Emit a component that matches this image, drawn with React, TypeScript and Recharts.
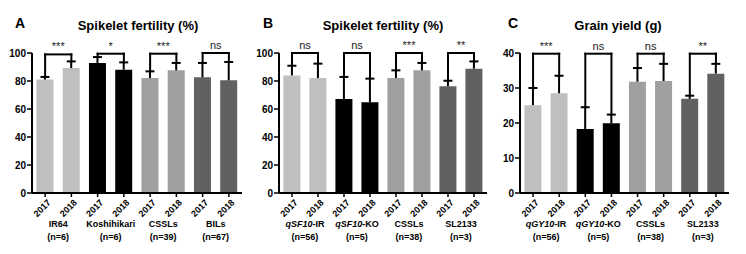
import React from "react";
import { BarChart, Bar, XAxis, YAxis, ReferenceLine, Cell } from "recharts";

const FONT = "'Liberation Sans', Arial, Helvetica, sans-serif";

const YEARS = ["2017", "2018"];
const GROUP_COLORS = ["#bfbfc1", "#000000", "#a0a0a2", "#616161"];

// A: spikelet fertility, parents and populations
const groupsA = ["IR64", "Koshihikari", "CSSLs", "BILs"];
const nA = [6, 6, 39, 67];
const meanA = [81.0, 89.3, 92.9, 88.1, 82.1, 87.6, 82.6, 80.5];
const sdA = [1.9, 4.7, 4.2, 5.2, 4.8, 5.3, 10.3, 13.1];
const sigA = ["***", "*", "***", "ns"];
const bracketA = [99, 99.5, 99.5, 100];

// B: spikelet fertility, qSF10 lines
const groupsB = ["qSF10-IR", "qSF10-KO", "CSSLs", "SL2133"];
const nB = [56, 5, 38, 3];
const meanB = [84.0, 82.1, 67.1, 64.8, 82.1, 87.6, 76.2, 88.8];
const sdB = [6.9, 10.3, 15.8, 16.9, 5.5, 5.3, 4.0, 5.2];
const sigB = ["ns", "ns", "***", "**"];
const bracketB = [100, 100, 100, 100];

// C: grain yield
const groupsC = ["qGY10-IR", "qGY10-KO", "CSSLs", "SL2133"];
const nC = [56, 5, 38, 3];
const meanC = [25.1, 28.5, 18.3, 19.9, 31.8, 32.0, 26.9, 34.1];
const sdC = [4.9, 5.0, 6.2, 2.5, 3.9, 4.9, 0.9, 2.8];
const sigC = ["***", "ns", "ns", "**"];
const bracketC = [39.8, 39.8, 39.8, 39.8];

const ticksPct = [0, 20, 40, 60, 80, 100];
const ticksYield = [0, 10, 20, 30, 40];

interface Row {
  key: string;
  year: string;
  group: string;
  gi: number;
  mean: number;
  sd: number;
}

function buildRows(groups: string[], means: number[], sds: number[]): Row[] {
  const rows: Row[] = [];
  groups.forEach((g, gi) => {
    YEARS.forEach((yr, yi) => {
      const i = gi * 2 + yi;
      rows.push({ key: `${g} ${yr}`, year: yr, group: g, gi, mean: means[i], sd: sds[i] });
    });
  });
  return rows;
}

// upward-only whisker drawn on the stacked sd segment
function Whisker(props: any) {
  const { x, y, width, height } = props;
  if (x == null || y == null) return null;
  const cx = x + width / 2;
  return (
    <g stroke="#000" strokeWidth={2} fill="none">
      <line x1={cx} y1={y + height} x2={cx} y2={y} />
      <line x1={cx - 4.5} y1={y} x2={cx + 4.5} y2={y} />
    </g>
  );
}

function YearTick({ x, y, payload }: any) {
  const yr = String(payload.value).split(" ")[1];
  const ax = x + 2;
  const ay = y;
  return (
    <text
      x={ax}
      y={ay}
      dy={6}
      transform={`rotate(-45 ${ax} ${ay})`}
      textAnchor="end"
      fontSize={9}
      fontWeight="bold"
      fontFamily={FONT}
      fill="#000"
    >
      {yr}
    </text>
  );
}

function makeGroupTick(groups: string[], ns: number[]) {
  return function GroupTick({ x, y, payload }: any) {
    const name = String(payload.value);
    const n = ns[groups.indexOf(name)];
    const dash = name.indexOf("-");
    const italic = name.startsWith("q") && dash > 0;
    return (
      <g fontFamily={FONT} fontSize={9} fontWeight="bold" fill="#000">
        <text x={x} y={y + 12} textAnchor="middle">
          {italic ? (
            <>
              <tspan fontStyle="italic">{name.slice(0, dash)}</tspan>
              <tspan>{name.slice(dash)}</tspan>
            </>
          ) : (
            name
          )}
        </text>
        <text x={x} y={y + 25} textAnchor="middle">{`(n=${n})`}</text>
      </g>
    );
  };
}

interface PanelProps {
  left: number;
  width: number;
  yWidth: number;
  marginRight: number;
  groups: string[];
  ns: number[];
  means: number[];
  sds: number[];
  sig: string[];
  bracket: number[];
  max: number;
  ticks: number[];
}

function Panel({ left, width, yWidth, marginRight, groups, ns, means, sds, sig, bracket, max, ticks }: PanelProps) {
  const rows = buildRows(groups, means, sds);
  const GroupTick = makeGroupTick(groups, ns);
  return (
    <div style={{ position: "absolute", left, top: 0 }}>
      <BarChart
        width={width}
        height={254}
        data={rows}
        margin={{ top: 53, right: marginRight, bottom: 0, left: 0 }}
        barCategoryGap="17%"
      >
        <XAxis
          dataKey="key"
          height={22}
          interval={0}
          tick={<YearTick />}
          tickSize={4}
          tickMargin={2}
          axisLine={{ stroke: "#000", strokeWidth: 2 }}
          tickLine={{ stroke: "#000", strokeWidth: 1.5 }}
        />
        <XAxis
          xAxisId="grp"
          dataKey="group"
          allowDuplicatedCategory={false}
          height={39}
          interval={0}
          tick={<GroupTick />}
          tickSize={0}
          tickMargin={0}
          axisLine={false}
          tickLine={false}
        />
        <YAxis
          width={yWidth}
          domain={[0, max]}
          ticks={ticks}
          interval={0}
          tickSize={5}
          tickMargin={1}
          tick={{ fill: "#000", fontSize: 10, fontWeight: "bold", fontFamily: FONT }}
          axisLine={{ stroke: "#000", strokeWidth: 2 }}
          tickLine={{ stroke: "#000", strokeWidth: 1.5 }}
        />
        <Bar dataKey="mean" stackId="s" isAnimationActive={false}>
          {rows.map((r) => (
            <Cell key={r.key} fill={GROUP_COLORS[r.gi]} />
          ))}
        </Bar>
        <Bar dataKey="sd" stackId="s" shape={<Whisker />} isAnimationActive={false} />
        {groups.map((g, gi) => {
          const a = rows[gi * 2];
          const b = rows[gi * 2 + 1];
          const top = bracket[gi];
          const common = {
            stroke: "#000",
            strokeWidth: 2,
            strokeLinecap: "square" as const,
            ifOverflow: "visible" as const,
            position: "middle" as const,
          };
          return (
            <React.Fragment key={g}>
              <ReferenceLine
                {...common}
                segment={[
                  { x: a.key, y: a.mean + a.sd },
                  { x: a.key, y: top },
                ]}
              />
              <ReferenceLine
                {...common}
                segment={[
                  { x: a.key, y: top },
                  { x: b.key, y: top },
                ]}
                label={{
                  value: sig[gi],
                  position: "top",
                  offset: 4,
                  fill: "#222",
                  fontSize: 11,
                  fontFamily: FONT,
                }}
              />
              <ReferenceLine
                {...common}
                segment={[
                  { x: b.key, y: top },
                  { x: b.key, y: b.mean + b.sd },
                ]}
              />
            </React.Fragment>
          );
        })}
      </BarChart>
    </div>
  );
}

export default function App() {
  const headStyle = { fontFamily: FONT, fontWeight: "bold" as const, fill: "#000" };
  return (
    <div style={{ position: "absolute", left: 0, top: 0, width: 746, height: 254, background: "#fff" }}>
      <Panel
        left={0}
        width={250}
        yWidth={32}
        marginRight={8}
        groups={groupsA}
        ns={nA}
        means={meanA}
        sds={sdA}
        sig={sigA}
        bracket={bracketA}
        max={100}
        ticks={ticksPct}
      />
      <Panel
        left={250}
        width={245}
        yWidth={29}
        marginRight={8}
        groups={groupsB}
        ns={nB}
        means={meanB}
        sds={sdB}
        sig={sigB}
        bracket={bracketB}
        max={100}
        ticks={ticksPct}
      />
      <Panel
        left={495}
        width={251}
        yWidth={25}
        marginRight={17}
        groups={groupsC}
        ns={nC}
        means={meanC}
        sds={sdC}
        sig={sigC}
        bracket={bracketC}
        max={40}
        ticks={ticksYield}
      />
      <svg
        width={746}
        height={254}
        style={{ position: "absolute", left: 0, top: 0, pointerEvents: "none" }}
      >
        <text x={15} y={28} fontSize={14} {...headStyle}>A</text>
        <text x={263} y={28} fontSize={14} {...headStyle}>B</text>
        <text x={508} y={28} fontSize={14} {...headStyle}>C</text>
        <text x={138} y={29.5} fontSize={13} textAnchor="middle" {...headStyle}>Spikelet fertility (%)</text>
        <text x={383} y={29.5} fontSize={13} textAnchor="middle" {...headStyle}>Spikelet fertility (%)</text>
        <text x={618} y={29.5} fontSize={13} textAnchor="middle" {...headStyle}>Grain yield (g)</text>
      </svg>
    </div>
  );
}
